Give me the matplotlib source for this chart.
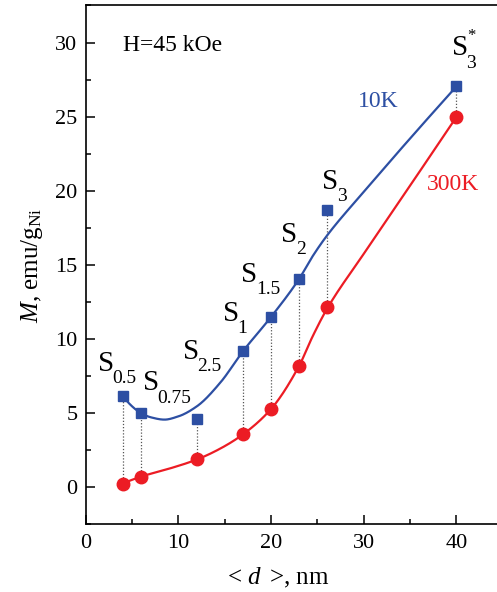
import numpy as np
import matplotlib
matplotlib.use("Agg")
import matplotlib.pyplot as plt
from matplotlib.ticker import MultipleLocator

plt.rcParams['font.family'] = ['Liberation Serif', 'DejaVu Serif']
plt.rcParams['mathtext.fontset'] = 'custom'
plt.rcParams['mathtext.rm'] = 'Liberation Serif'
plt.rcParams['mathtext.it'] = 'Liberation Serif:italic'
plt.rcParams['mathtext.bf'] = 'Liberation Serif:bold'

# ---- data ----
d_nm = [4, 6, 12, 17, 20, 23, 26, 40]
m_10K = [6.14, 4.99, 4.63, 9.2, 11.49, 14.03, 18.68, 27.04]
m_300K = [0.25, 0.72, 1.87, 3.58, 5.28, 8.16, 12.14, 24.98]
sample_subs = ['0.5', '0.75', '2.5', '1', '1.5', '2', '3', '3']

# smooth guide curves
curve10_x = [4, 6, 7, 8.5, 10, 12, 14.5, 17, 20, 23, 24.5, 26, 30, 35, 40]
curve10_y = [6.14, 4.99, 4.72, 4.56, 4.78, 5.46, 7.04, 9.2, 11.49, 14.03, 15.6, 16.95, 19.93, 23.53, 27.04]
curve300_x = [4, 6, 9, 12, 14.5, 17, 20, 23, 24.5, 26, 30, 35, 40]
curve300_y = [0.25, 0.72, 1.25, 1.87, 2.6, 3.58, 5.28, 8.16, 10.2, 12.0, 15.75, 20.35, 24.98]

# label anchor positions (data coords, left / vertical centre of the "S")
label_x = [1.3, 6.2, 10.5, 14.8, 16.8, 21.1, 25.5, 39.5]
label_y = [8.3, 7.0, 9.1, 11.7, 14.3, 17.0, 20.6, 29.6]

BLUE = '#2d4fa3'
RED = '#ec1c24'


def pchip(x, y, n=500):
    x = np.asarray(x, float); y = np.asarray(y, float)
    h = np.diff(x); delta = np.diff(y) / h
    k = len(x); d = np.zeros(k)
    for i in range(1, k - 1):
        if delta[i - 1] * delta[i] > 0:
            w1 = 2 * h[i] + h[i - 1]; w2 = h[i] + 2 * h[i - 1]
            d[i] = (w1 + w2) / (w1 / delta[i - 1] + w2 / delta[i])
    d[0] = ((2 * h[0] + h[1]) * delta[0] - h[0] * delta[1]) / (h[0] + h[1])
    if np.sign(d[0]) != np.sign(delta[0]):
        d[0] = 0
    d[-1] = ((2 * h[-1] + h[-2]) * delta[-1] - h[-1] * delta[-2]) / (h[-1] + h[-2])
    if np.sign(d[-1]) != np.sign(delta[-1]):
        d[-1] = 0
    xs = np.linspace(x[0], x[-1], n)
    idx = np.clip(np.searchsorted(x, xs) - 1, 0, k - 2)
    t = (xs - x[idx]) / h[idx]
    h00 = 2 * t**3 - 3 * t**2 + 1; h10 = t**3 - 2 * t**2 + t
    h01 = -2 * t**3 + 3 * t**2; h11 = t**3 - t**2
    ys = h00 * y[idx] + h10 * h[idx] * d[idx] + h01 * y[idx + 1] + h11 * h[idx] * d[idx + 1]
    return xs, ys


fig = plt.figure(figsize=(4.97, 5.92), dpi=100)
ax = fig.add_axes([0.1724, 0.1144, 0.8276, 0.8764])

# dotted connectors
for xi, a, b in zip(d_nm, m_300K, m_10K):
    ax.plot([xi, xi], [a, b], linestyle=(0, (1, 1.5)), color='#555555', lw=0.9, zorder=1)

xs, ys = pchip(curve10_x, curve10_y)
ax.plot(xs, ys, color=BLUE, lw=1.6, zorder=2)
xs, ys = pchip(curve300_x, curve300_y)
ax.plot(xs, ys, color=RED, lw=1.6, zorder=2)

ax.plot(d_nm, m_10K, 's', color=BLUE, ms=7.5, mec=BLUE, zorder=3)
ax.plot(d_nm, m_300K, 'o', color=RED, ms=9, mec=RED, zorder=3)

for i, (sub, lx, ly) in enumerate(zip(sample_subs, label_x, label_y)):
    ax.annotate('S', xy=(lx, ly), fontsize=21, ha='left', va='center', zorder=4)
    ax.annotate(sub, xy=(lx, ly), xytext=(10.5, -10.5), textcoords='offset points',
                fontsize=14, ha='left', va='center', zorder=4)
    if i == len(sample_subs) - 1:
        ax.annotate('*', xy=(lx, ly), xytext=(11, 9), textcoords='offset points',
                    fontsize=12, ha='left', va='center', zorder=4)

ax.text(4.0, 29.8, 'H=45 kOe', fontsize=17, ha='left', va='center')
ax.text(31.6, 26.0, '10K', fontsize=17, color=BLUE, ha='center', va='center')
ax.text(39.6, 20.4, '300K', fontsize=17, color=RED, ha='center', va='center')

ax.set_xlim(0, 44.37)
ax.set_ylim(-2.5, 32.5)
ax.xaxis.set_major_locator(MultipleLocator(10))
ax.xaxis.set_minor_locator(MultipleLocator(5))
ax.yaxis.set_major_locator(MultipleLocator(5))
ax.yaxis.set_minor_locator(MultipleLocator(2.5))
ax.tick_params(which='both', direction='in', top=False, right=False, width=1.1, labelsize=16)
ax.tick_params(which='major', length=6.5)
ax.tick_params(which='minor', length=3.5)
ax.tick_params(axis='x', pad=7)
ax.tick_params(axis='y', pad=6)
ax.spines['right'].set_visible(False)
for sp in ['left', 'bottom', 'top']:
    ax.spines[sp].set_linewidth(1.2)

ax.set_xlabel(r'< $d\,$ >, nm', fontsize=18)
ax.xaxis.set_label_coords(0.4675, -0.104)
ax.xaxis.label.set_va('center')
ax.set_ylabel(r'$M$, emu/g$_{\mathrm{Ni}}$', fontsize=18)
ax.yaxis.set_label_coords(-0.13, 0.5)
ax.yaxis.label.set_va('center')

fig.savefig('out.png', dpi=100)
